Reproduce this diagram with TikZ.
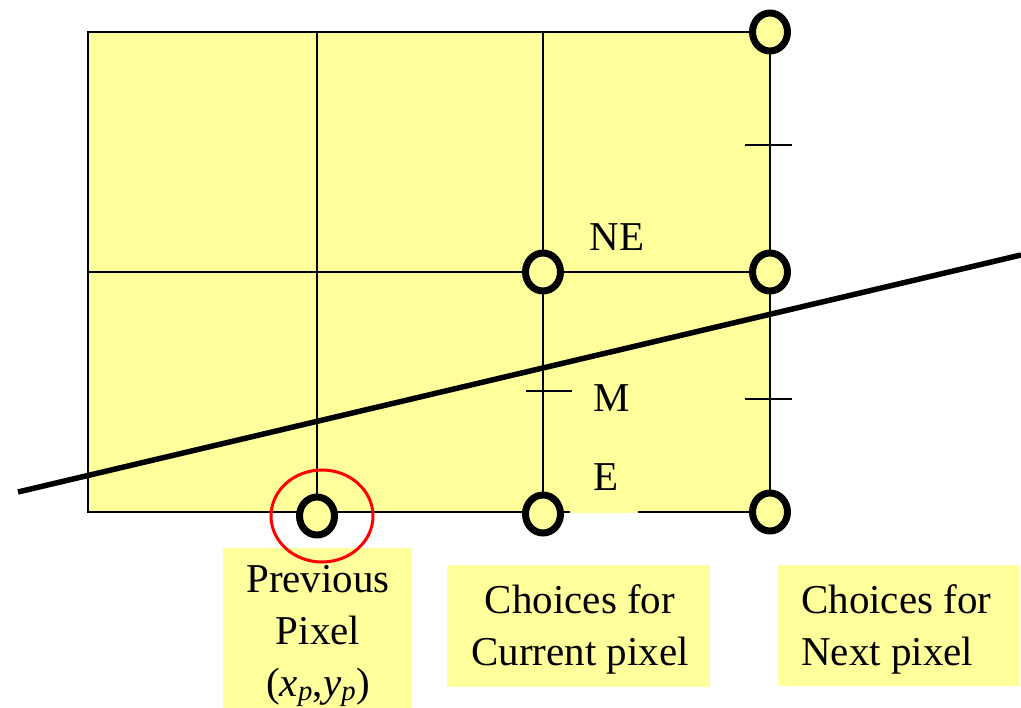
\documentclass[tikz,border=0pt]{standalone}
\usepackage{fontspec}
\setmainfont{Liberation Serif}
\usetikzlibrary{shapes.geometric}
\definecolor{padyellow}{RGB}{255,255,155}
\tikzset{
  gridline/.style={draw=black,line width=1.6pt},
  pixdot/.style={ellipse,draw=black,line width=7pt,fill=padyellow,minimum width=35pt,minimum height=38pt,inner sep=0pt},
  tickmark/.style={draw=black,line width=1.6pt},
  biglabel/.style={font=\fontsize{41}{52}\selectfont,inner sep=0pt},
  labelbox/.style={fill=padyellow,draw=none,inner sep=0pt},
}
\begin{document}
\begin{tikzpicture}[x=1pt,y=-1pt]
\useasboundingbox (0,0) rectangle (1021,708);
% background grid
\fill[padyellow] (88,32) rectangle (770,512);
\coordinate (g00) at (88,32);
\coordinate (g10) at (317,32);
\coordinate (g20) at (543,32);
\coordinate (g30) at (770,32);
\coordinate (g01) at (88,272);
\coordinate (g31) at (770,272);
\coordinate (g02) at (88,512);
\coordinate (g12) at (317,512);
\coordinate (g22) at (543,512);
\coordinate (g32) at (770,512);
\draw[gridline] (g00) -- (g30) -- (g32) -- (g02) -- cycle;
\draw[gridline] (g10) -- (g12);
\draw[gridline] (g20) -- (g22);
\draw[gridline] (g01) -- (g31);
% ticks
\coordinate (t1a) at (745,145); \coordinate (t1b) at (792,145);
\coordinate (t2a) at (745,399); \coordinate (t2b) at (792,399);
\coordinate (t3a) at (526,391); \coordinate (t3b) at (572,391);
\draw[tickmark] (t1a) -- (t1b);
\draw[tickmark] (t2a) -- (t2b);
\draw[tickmark] (t3a) -- (t3b);
% E label box covering bottom line
\node[labelbox,minimum width=68pt,minimum height=58pt] (ebox) at (604,484) {};
\node[biglabel] (E) at (606,477) {E};
\node[biglabel] (NE) at (617,237) {NE};
\node[biglabel] (M) at (612,398) {M};
% thick line
\coordinate (la) at (18,492);
\coordinate (lb) at (1021,255);
\draw[line width=5.5pt] (la) -- (lb);
% pixels
\node[pixdot] (p1) at (770,32) {};
\node[pixdot] (p2) at (543,272) {};
\node[pixdot] (p3) at (770,272) {};
\node[pixdot] (p4) at (317,516) {};
\node[pixdot] (p5) at (543,514) {};
\node[pixdot] (p6) at (770,512) {};
% label boxes
\node[labelbox,minimum width=189pt,minimum height=160pt] (b1) at (317.5,628) {};
\node[biglabel,align=center] (t1) at (318,636) {Previous\\Pixel\\(\textit{x}\textsubscript{\textit{p}},\textit{y}\textsubscript{\textit{p}})};
\node[labelbox,minimum width=263pt,minimum height=122pt] (b2) at (578.5,626) {};
\node[biglabel,align=center] (t2) at (580,629) {Choices for\\Current pixel};
\node[labelbox,minimum width=241pt,minimum height=121pt] (b3) at (898.5,625.5) {};
\node[biglabel,align=left,anchor=west] (t3) at (801,629) {Choices for\\Next pixel};
% red highlight
\node[ellipse,draw=red,line width=3pt,minimum width=102pt,minimum height=92pt,inner sep=0pt] (hl) at (322,516) {};
\end{tikzpicture}
\end{document}
